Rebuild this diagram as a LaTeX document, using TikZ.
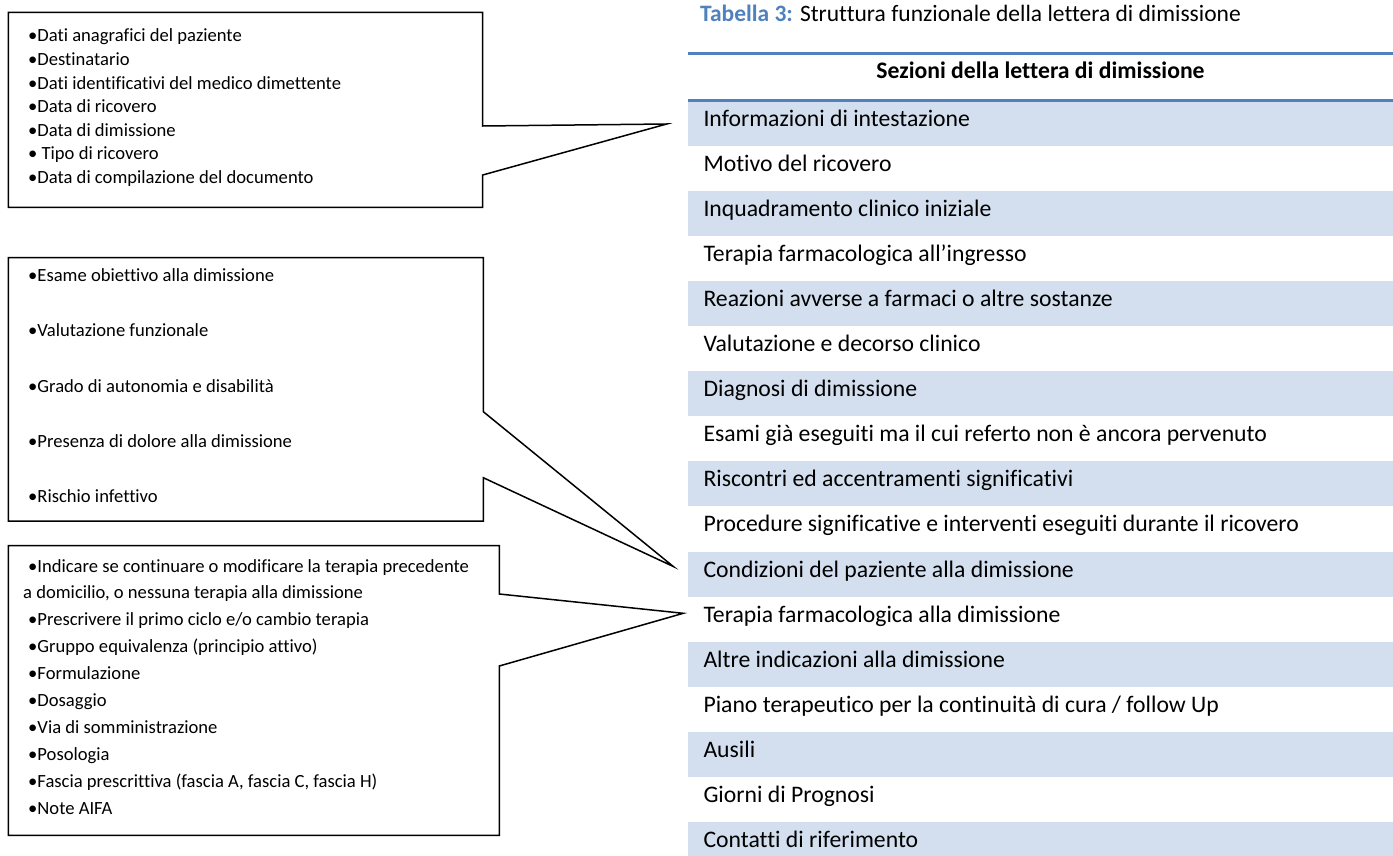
\documentclass[tikz,border=0pt]{standalone}
\usepackage{fontspec}
\setmainfont{Carlito}[Ligatures=NoCommon]
\definecolor{tblue}{HTML}{4F81BD}
\definecolor{rowshade}{HTML}{D3DFEE}
\begin{document}
\begin{tikzpicture}[x=1pt,y=-1pt,
  outline/.style={draw=black,line width=1.5pt,line join=miter,fill=white},
  btxt/.style={anchor=base west,inner sep=0pt,font=\fontsize{18.6}{22}\selectfont},
  rtxt/.style={anchor=base west,inner sep=0pt,font=\fontsize{23.7}{28}\selectfont},
  hline/.style={draw=tblue,line width=2.6pt},
]
\useasboundingbox (0,0) rectangle (1393,856);

% ---------- table ----------
\foreach \i in {0,2,...,14}
  \fill[rowshade] (687.7,{101+45.05*\i}) rectangle (1393,{146+45.05*\i});
\fill[rowshade] (687.7,{101+45.05*16}) rectangle (1393,856);

\node[anchor=base west,inner sep=0pt,font=\fontsize{23.5}{28}\selectfont] (title) at (700,22)
  {\textcolor{tblue}{\bfseries Tabella 3:} Struttura funzionale della lettera di dimissione};
\draw[hline] (687.7,53.3) -- (1393,53.3);
\node[anchor=base,inner sep=0pt,font=\fontsize{23.7}{28}\selectfont\bfseries] (hdr) at (1040.5,79)
  {Sezioni della lettera di dimissione};
\draw[hline] (687.7,100.7) -- (1393,100.7);

\foreach \t [count=\i from 0] in {
  Informazioni di intestazione,
  Motivo del ricovero,
  Inquadramento clinico iniziale,
  Terapia farmacologica all’ingresso,
  Reazioni avverse a farmaci o altre sostanze,
  Valutazione e decorso clinico,
  Diagnosi di dimissione,
  Esami già eseguiti ma il cui referto non è ancora pervenuto,
  Riscontri ed accentramenti significativi,
  Procedure significative e interventi eseguiti durante il ricovero,
  Condizioni del paziente alla dimissione,
  Terapia farmacologica alla dimissione,
  Altre indicazioni alla dimissione,
  Piano terapeutico per la continuità di cura / follow Up,
  Ausili,
  Giorni di Prognosi,
  Contatti di riferimento}
  \node[rtxt] (r\i) at (703.3,{126.5+45.05*\i}) {\t};

% ---------- callout 1 ----------
\coordinate (t1) at (666.7,124);
\draw[outline] (8.3,12.3) -- (482.7,12.3) -- (482.7,126) -- (t1) -- (482.7,175)
  -- (482.7,207.3) -- (8.3,207.3) -- cycle;
\foreach \t [count=\i from 0] in {
  •Dati anagrafici del paziente,
  •Destinatario,
  •Dati identificativi del medico dimettente,
  •Data di ricovero,
  •Data di dimissione,
  • Tipo di ricovero,
  •Data di compilazione del documento}
  \node[btxt] (a\i) at (28,{42+23.6*\i}) {\t};

% ---------- callout 2 ----------
\coordinate (t2) at (673.3,566.5);
\draw[outline] (8.3,257.7) -- (483.3,257.7) -- (483.3,411.7) -- (t2) -- (483.3,477.7)
  -- (483.3,521) -- (8.3,521) -- cycle;
\foreach \t [count=\i from 0] in {
  •Esame obiettivo alla dimissione,
  •Valutazione funzionale,
  •Grado di autonomia e disabilità,
  •Presenza di dolore alla dimissione,
  •Rischio infettivo}
  \node[btxt] (b\i) at (28,{281.5+55.25*\i}) {\t};

% ---------- callout 3 ----------
\coordinate (t3) at (683.3,613.3);
\draw[outline] (8.3,545.7) -- (499.3,545.7) -- (499.3,594) -- (t3) -- (499.3,666)
  -- (499.3,835.3) -- (8.3,835.3) -- cycle;
\foreach \t/\xx [count=\i from 0] in {
  {•Indicare se continuare o modificare la terapia precedente}/28,
  {a domicilio, o nessuna terapia alla dimissione}/23,
  {•Prescrivere il primo ciclo e/o cambio terapia}/28,
  {•Gruppo equivalenza (principio attivo)}/28,
  {•Formulazione}/28,
  {•Dosaggio}/28,
  {•Via di somministrazione}/28,
  {•Posologia}/28,
  {•Fascia prescrittiva (fascia A, fascia C, fascia H)}/28,
  {•Note AIFA}/28}
  \node[btxt] (c\i) at (\xx,{572+26.9*\i}) {\t};
\end{tikzpicture}
\end{document}
